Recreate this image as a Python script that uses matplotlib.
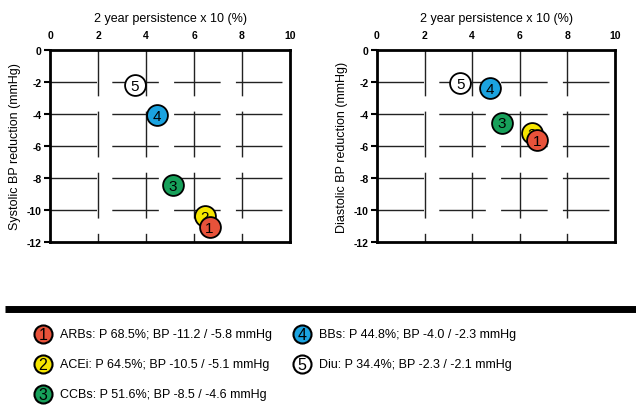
import numpy as np
import matplotlib
matplotlib.use("Agg")
from matplotlib import pyplot as plt

plt.rcParams['font.family'] = ['Liberation Sans', 'DejaVu Sans']

# drug classes, in legend order
drugs = ['ARBs', 'ACEi', 'CCBs', 'BBs', 'Diu']
persistence = [68.5, 64.5, 51.6, 44.8, 34.4]   # 2 year persistence (%), as in legend
sys_bp = [-11.2, -10.5, -8.5, -4.0, -2.3]
dia_bp = [-5.8, -5.1, -4.6, -2.3, -2.1]
colors = ['#e8523a', '#f6e500', '#17a05a', '#1ba3e0', 'white']

# where the bubbles actually sit in each panel
sys_x = [6.65, 6.45, 5.13, 4.46, 3.53]
sys_y = [-11.06, -10.4, -8.46, -4.05, -2.18]
dia_x = [6.71, 6.5, 5.25, 4.73, 3.5]
dia_y = [-5.65, -5.17, -4.54, -2.36, -2.09]

xticks = [0, 2, 4, 6, 8, 10]
yticks = [0, -2, -4, -6, -8, -10, -12]

fig = plt.figure(figsize=(6.36, 4.06), dpi=100)
W, H = 636, 406


def px_axes(x0, y0, x1, y1):
    return fig.add_axes([x0 / W, 1 - y1 / H, (x1 - x0) / W, (y1 - y0) / H])


def panel(ax, xvals, yvals, ylabel):
    ax.set_xlim(0, 10)
    ax.set_ylim(-12, 0)
    # broken grid, dashes start at the top / left edge
    for gx in xticks[1:-1]:
        ax.plot([gx, gx], [0, -12], color='#222222', lw=1, dashes=(33, 11), zorder=1)
    for gy in yticks[1:-1]:
        ax.plot([0, 10], [gy, gy], color='#222222', lw=1, dashes=(33.5, 11), zorder=1)
    # plot back to front so 1 ends up on top (and hides the 2)
    for k, i in enumerate(range(len(drugs) - 1, -1, -1)):
        ax.plot(xvals[i], yvals[i], 'o', ms=15, mfc=colors[i], mec='black', mew=1.3,
                zorder=3 + 2 * k)
        ax.text(xvals[i], yvals[i] - 0.05, str(i + 1), ha='center', va='center',
                fontsize=11, zorder=4 + 2 * k)
    ax.xaxis.tick_top()
    ax.xaxis.set_label_position('top')
    ax.set_xticks(xticks)
    ax.set_yticks(yticks)
    ax.set_xticklabels([str(t) for t in xticks], fontweight='bold', fontsize=7.5)
    ax.set_yticklabels([str(t) for t in yticks], fontweight='bold', fontsize=7.5)
    ax.tick_params(axis='x', length=0, pad=7)
    ax.tick_params(axis='y', length=4, width=1.5, direction='out', pad=2)
    ax.set_xlabel('2 year persistence x 10 (%)', fontsize=9, labelpad=7)
    ax.set_ylabel(ylabel, fontsize=9, labelpad=4)
    for s in ax.spines.values():
        s.set_linewidth(2)
        s.set_zorder(20)


ax1 = px_axes(50, 51, 290, 243)
panel(ax1, sys_x, sys_y, 'Systolic BP reduction (mmHg)')
ax2 = px_axes(377, 51, 615, 243)
panel(ax2, dia_x, dia_y, 'Diastolic BP reduction (mmHg)')

# legend area in pixel coordinates
leg = fig.add_axes([0, 0, 1, 1])
leg.set_xlim(0, W)
leg.set_ylim(H, 0)
leg.axis('off')
leg.plot([5, W], [309.5, 309.5], color='black', lw=5, solid_capstyle='butt')

col_x = [43, 302]
row_y = [335, 365, 395]
for i, d in enumerate(drugs):
    cx = col_x[i // 3]
    cy = row_y[i % 3]
    leg.plot(cx, cy, 'o', ms=13, mfc=colors[i], mec='black', mew=1.5)
    leg.text(cx, cy + 0.5, str(i + 1), ha='center', va='center', fontsize=11.5)
    label = f'{d}: P {persistence[i]}%; BP {sys_bp[i]:.1f} / {dia_bp[i]:.1f} mmHg'
    leg.text(cx + 17, cy, label, ha='left', va='center', fontsize=9)

fig.savefig('out.png', dpi=100)
